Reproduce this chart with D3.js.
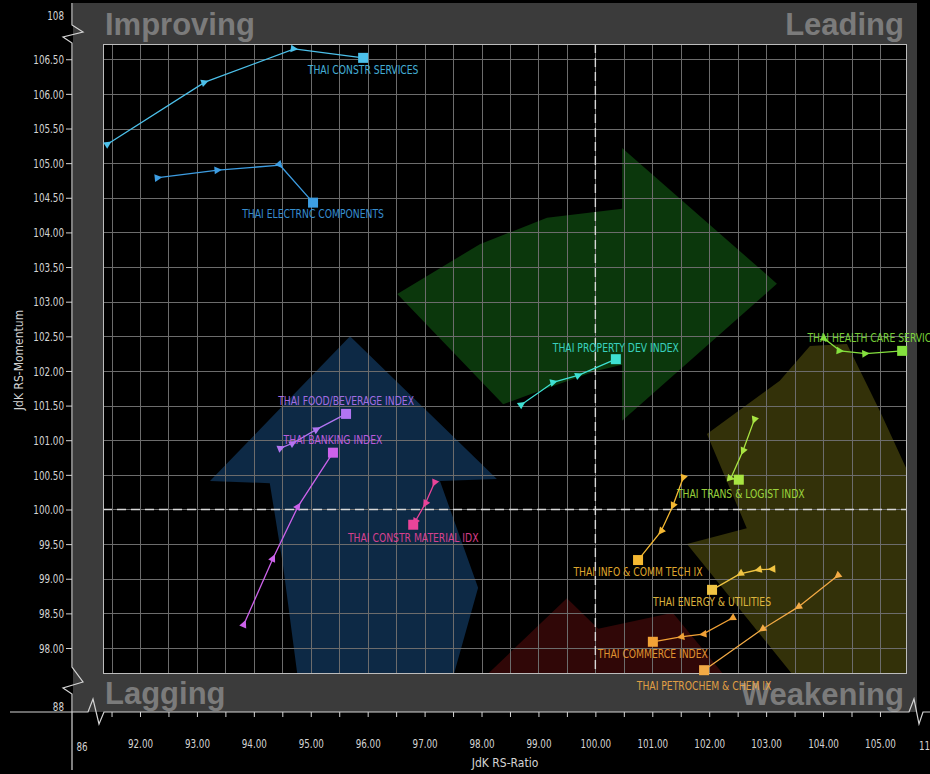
<!DOCTYPE html>
<html>
<head>
<meta charset="utf-8">
<script src="https://cdn.jsdelivr.net/npm/d3@7"></script>
<style>
  body { margin: 0; background: #000; overflow: hidden; }
  text { font-family: "DejaVu Sans Condensed", "Liberation Sans Narrow", sans-serif; }
</style>
</head>
<body>
<svg id="rrg" width="930" height="774"></svg>
<script>
// ---- data ----
const seriesNames = [
  "THAI CONSTR SERVICES", "THAI ELECTRNC COMPONENTS", "THAI PROPERTY DEV INDEX",
  "THAI HEALTH CARE SERVICES", "THAI FOOD/BEVERAGE INDEX", "THAI BANKING INDEX",
  "THAI CONSTR MATERIAL IDX", "THAI TRANS & LOGIST INDX", "THAI INFO & COMM TECH IX",
  "THAI ENERGY & UTILITIES", "THAI COMMERCE INDEX", "THAI PETROCHEM & CHEM IX"
];
// JdK RS-Ratio, oldest -> latest
const rsRatio = [
  [91.44, 93.14, 94.71, 95.92],
  [92.32, 93.37, 94.46, 95.04],
  [98.71, 99.27, 99.71, 100.36],
  [104.03, 104.30, 104.75, 105.39],
  [94.48, 94.69, 95.11, 95.62],
  [93.83, 94.34, 94.78, 95.39],
  [97.17, 97.01, 96.83, 96.80],
  [102.79, 102.59, 102.38, 102.52],
  [101.54, 101.36, 101.15, 100.75],
  [103.10, 102.86, 102.54, 102.05],
  [102.40, 101.89, 101.50, 101.01],
  [104.25, 103.56, 102.93, 101.91]
];
// JdK RS-Momentum, oldest -> latest
const rsMomentum = [
  [105.28, 106.17, 106.65, 106.52],
  [104.79, 104.90, 104.97, 104.43],
  [101.52, 101.84, 101.94, 102.17],
  [102.46, 102.29, 102.25, 102.29],
  [100.89, 100.96, 101.16, 101.38],
  [98.35, 99.30, 100.05, 100.82],
  [100.38, 100.08, 99.82, 99.78],
  [101.29, 100.84, 100.45, 100.43],
  [100.45, 100.05, 99.68, 99.27],
  [99.14, 99.13, 99.07, 98.84],
  [98.43, 98.20, 98.16, 98.09],
  [99.04, 98.59, 98.27, 97.68]
];
const xTickLabels = [92, 93, 94, 95, 96, 97, 98, 99, 100, 101, 102, 103, 104, 105];
const yTickLabels = [98, 98.5, 99, 99.5, 100, 100.5, 101, 101.5, 102, 102.5, 103, 103.5, 104, 104.5, 105, 105.5, 106, 106.5];
const quadrants = ["Improving", "Leading", "Lagging", "Weakening"];

// ---- styling ----
const seriesColors = ["#4cc0ea", "#3d9de2", "#3ee0d2", "#84e03e", "#b275f2", "#cc62ea",
                      "#ea4499", "#a8e442", "#f4b832", "#f0c443", "#f2a236", "#f2aa45"];
// label offset from the latest point: [dx, dy] in px
const labelPlace = [[0, 12], [0, 11], [0, -12], [-27, -13], [0, -13], [0, -13],
                    [0, 13], [2, 14], [0, 12], [0, 12], [0, 12], [0, 15]];

// background arrows of the rotation, in chart units [ratio, momentum]
const arrowGreen = [[96.52,103.11],[97.97,103.83],[99.15,104.21],[100.47,104.34],[100.47,105.22],
                    [103.19,103.26],[100.47,101.28],[100.47,102.09],[100.01,102.0],[99.15,101.75],[98.38,101.52]];
const arrowBlue = [[95.69,102.50],[98.27,100.44],[97.27,100.41],[97.94,98.87],[97.48,97.52],
                   [94.78,97.52],[94.51,99.21],[94.28,100.38],[93.23,100.41]];
const arrowYellow = [[101.96,101.09],[103.24,101.86],[103.77,102.36],[104.42,102.39],[105.0,101.42],
                     [105.48,100.56],[106.4,99.26],[106.4,96.95],[104.12,96.95],[101.61,99.50],[102.66,99.73]];
const arrowRed = [[97.62,97.24],[99.50,98.72],[100.05,98.28],[101.36,98.51],[102.63,97.24]];

const W = 930, H = 774;
const plot = {left: 103, top: 44, right: 907, bottom: 674};
const x = d3.scaleLinear().domain([91.35, 105.475]).range([plot.left, plot.right]);
const y = d3.scaleLinear().domain([97.625, 106.72]).range([plot.bottom, plot.top]);

// squeeze text horizontally (the original uses a narrow terminal font)
function narrow(sel, sx) {
  sel.each(function () {
    const t = d3.select(this);
    const x0 = +t.attr("x") || 0;
    t.attr("x", x0 / sx).attr("transform", `scale(${sx},1)`);
  });
}

const svg = d3.select("#rrg");
svg.append("rect").attr("width", W).attr("height", H).attr("fill", "#000");

// grey frame
svg.append("rect").attr("x", 73).attr("y", 3).attr("width", 844).attr("height", 709).attr("fill", "#3b3b3b");
svg.append("rect")
  .attr("x", plot.left).attr("y", plot.top)
  .attr("width", plot.right - plot.left).attr("height", plot.bottom - plot.top)
  .attr("fill", "#000");

svg.append("clipPath").attr("id", "clip")
  .append("rect")
  .attr("x", plot.left).attr("y", plot.top)
  .attr("width", plot.right - plot.left).attr("height", plot.bottom - plot.top);

const bg = svg.append("g").attr("clip-path", "url(#clip)");
const shape = d3.line().x(d => x(d[0])).y(d => y(d[1]));
[[arrowGreen, "#0b370c"], [arrowBlue, "#0d2945"], [arrowYellow, "#333109"], [arrowRed, "#300707"]]
  .forEach(([pts, c]) => bg.append("path").attr("d", shape(pts) + "Z").attr("fill", c));

// grid every 0.5
const grid = svg.append("g").attr("clip-path", "url(#clip)").attr("stroke", "#6c6c6c").attr("stroke-width", 1);
grid.selectAll(".gx").data(d3.range(91.5, 105.01, 0.5)).join("line")
  .attr("x1", d => Math.round(x(d)) + 0.5).attr("x2", d => Math.round(x(d)) + 0.5)
  .attr("y1", plot.top).attr("y2", plot.bottom);
grid.selectAll(".gy").data(d3.range(98, 106.51, 0.5)).join("line")
  .attr("y1", d => Math.round(y(d)) + 0.5).attr("y2", d => Math.round(y(d)) + 0.5)
  .attr("x1", plot.left).attr("x2", plot.right);

// centre cross at 100 / 100
const cross = svg.append("g").attr("stroke", "#d8d8d8").attr("stroke-width", 1.4).attr("stroke-dasharray", "9,5");
cross.append("line").attr("x1", x(100)).attr("x2", x(100)).attr("y1", plot.top).attr("y2", plot.bottom);
cross.append("line").attr("y1", y(100)).attr("y2", y(100)).attr("x1", plot.left).attr("x2", plot.right);

svg.append("rect")
  .attr("x", plot.left + 0.5).attr("y", plot.top + 0.5)
  .attr("width", plot.right - plot.left - 1).attr("height", plot.bottom - plot.top - 1)
  .attr("fill", "none").attr("stroke", "#bdbdbd").attr("stroke-width", 1);

// quadrant names
const qpos = [[105, 35, "start"], [904, 35, "end"], [105, 704, "start"], [904, 705, "end"]];
svg.selectAll(".quad").data(quadrants).join("text")
  .attr("x", (d, i) => qpos[i][0]).attr("y", (d, i) => qpos[i][1])
  .attr("text-anchor", (d, i) => qpos[i][2])
  .style("font-family", "'Liberation Sans', Arial, sans-serif")
  .attr("font-weight", "bold").attr("font-size", 31).attr("fill", "#7b7b7b")
  .text(d => d);

// tails
const tails = seriesNames.map((name, i) => ({
  name, color: seriesColors[i], place: labelPlace[i],
  pts: rsRatio[i].map((r, j) => [r, rsMomentum[i][j]])
}));
const line = d3.line().x(d => x(d[0])).y(d => y(d[1]));
const g = svg.append("g");
tails.forEach(t => {
  const s = g.append("g");
  s.append("path").attr("d", line(t.pts)).attr("fill", "none")
    .attr("stroke", t.color).attr("stroke-width", 1.3);
  const heads = t.pts.slice(0, -1).map((p, j) => {
    const q = t.pts[j + 1];
    const ang = Math.atan2(y(q[1]) - y(p[1]), x(q[0]) - x(p[0])) * 180 / Math.PI;
    return {p, ang};
  });
  s.selectAll("path.hd").data(heads).join("path").attr("class", "hd")
    .attr("d", "M4,0L-3.5,-3.8L-3.5,3.8Z")
    .attr("transform", d => `translate(${x(d.p[0])},${y(d.p[1])}) rotate(${d.ang})`)
    .attr("fill", t.color);
  const last = t.pts[t.pts.length - 1];
  s.append("rect")
    .attr("x", x(last[0]) - 5).attr("y", y(last[1]) - 5)
    .attr("width", 10).attr("height", 10).attr("fill", t.color);
  s.append("g")
    .attr("transform", `translate(${x(last[0]) + t.place[0]},${y(last[1]) + t.place[1]})`)
    .append("text")
    .attr("transform", "scale(0.79,1)")
    .attr("text-anchor", "middle").attr("dominant-baseline", "central")
    .attr("font-size", 13).attr("fill", t.color).attr("opacity", 0.9)
    .text(t.name);
});

// axes
const axisColor = "#d4d4d4";
const yAxis = svg.append("g").attr("transform", "translate(72,0)")
  .call(d3.axisLeft(y).tickValues(yTickLabels).tickFormat(d3.format(".2f")).tickSize(6).tickPadding(2));
const xAxis = svg.append("g").attr("transform", "translate(0,712)")
  .call(d3.axisBottom(x).tickValues(d3.range(91.5, 105.01, 0.5))
    .tickFormat(d => Number.isInteger(d) && xTickLabels.includes(d) ? d3.format(".2f")(d) : "")
    .tickSize(5).tickPadding(22));
[yAxis, xAxis].forEach(a => {
  a.select(".domain").remove();
  a.selectAll("line").attr("stroke", axisColor);
  a.selectAll("text").attr("fill", axisColor).attr("font-size", 13)
    .style("font-family", "'DejaVu Sans Condensed', sans-serif");
  narrow(a.selectAll("text"), 0.75);
});

// axis lines with break marks
const ax = svg.append("g").attr("fill", "none").attr("stroke", axisColor).attr("stroke-width", 1.2);
ax.append("path").attr("d", "M72,3V25L83,32L63,37L72,43V667L83,682L63,688L72,694V770");
ax.append("path").attr("d", "M10,712H88L93,699L99,724L104,712H909L914,699L919,724L923,712H930");

const extra = svg.append("g").attr("fill", axisColor).attr("font-size", 13);
extra.append("text").attr("x", 64).attr("y", 15).attr("text-anchor", "end").attr("dominant-baseline", "central").text("108");
extra.append("text").attr("x", 64).attr("y", 706).attr("text-anchor", "end").attr("dominant-baseline", "central").text("88");
extra.append("text").attr("x", 82).attr("y", 746).attr("text-anchor", "middle").attr("dominant-baseline", "central").text("86");
extra.append("text").attr("x", 919).attr("y", 745).attr("text-anchor", "start").attr("dominant-baseline", "central").text("110");
narrow(extra.selectAll("text"), 0.75);

const titles = svg.append("g").attr("fill", axisColor).attr("font-size", 12);
titles.append("text").attr("x", 505).attr("y", 763).attr("text-anchor", "middle").attr("dominant-baseline", "central")
  .text("JdK RS-Ratio");
titles.append("text").attr("transform", "translate(19,360) rotate(-90)")
  .attr("text-anchor", "middle").attr("dominant-baseline", "central")
  .text("JdK RS-Momentum");
</script>
</body>
</html>
